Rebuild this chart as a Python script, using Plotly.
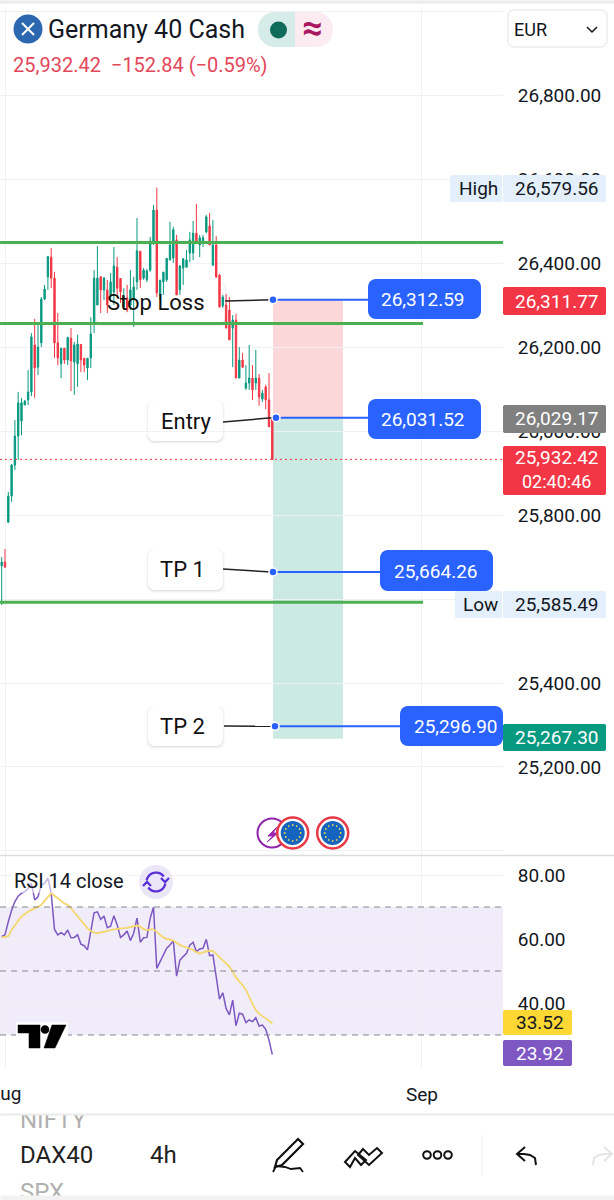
import math
import plotly.graph_objects as go

OPEN = [25679,25688,25783,25845,25919,25988,26024,26062,26074,26093,
26205,26152,26210,26314,26367,26414,26364,26210,26160,26197,
26169,26221,26164,26160,26206,26173,26150,26174,26255,26300,
26367,26336,26336,26324,26331,26390,26363,26295,26317,26300,
26312,26355,26428,26364,26360,26383,26448,26526,26324,26355,
26360,26407,26412,26455,26336,26388,26390,26424,26424,26471,
26443,26452,26474,26488,26395,26443,26371,26298,26300,26288,
26245,26264,26126,26169,26102,26114,26126,26114,26126,26076,
26105,26074,26030]
HIGH = [25700,25719,25855,25921,26026,26093,26079,26074,26145,26233,
26267,26257,26319,26348,26417,26436,26379,26281,26198,26198,
26224,26245,26212,26229,26207,26174,26174,26271,26383,26440,
26369,26367,26360,26376,26438,26414,26364,26340,26348,26383,
26367,26507,26429,26388,26386,26462,26538,26579.56,26360,26379,
26412,26498,26486,26467,26395,26412,26431,26474,26500,26541,
26467,26467,26514,26519,26502,26464,26374,26324,26326,26319,
26276,26279,26200,26186,26157,26205,26157,26193,26136,26098,
26110,26138,26033]
LOW = [25585.49,25674,25781,25831,25907,25931,25990,26062,26062,26083,
26079,26133,26200,26312,26336,26340,26174,26157,26126,26160,
26157,26095,26086,26105,26140,26140,26121,26150,26233,26300,
26281,26312,26281,26307,26300,26319,26305,26293,26283,26288,
26248,26336,26340,26360,26355,26379,26443,26319,26312,26324,
26355,26407,26400,26324,26324,26348,26390,26402,26407,26448,
26414,26438,26471,26443,26393,26364,26295,26293,26245,26217,
26152,26126,26126,26150,26098,26098,26074,26098,26060,26069,
26052,26010,25932.42]
CLOSE = [25688,25676,25845,25919,25988,26067,26067,26071,26093,26224,
26150,26200,26314,26338,26415,26364,26210,26174,26197,26169,
26223,26167,26205,26207,26169,26157,26173,26231,26364,26364,
26336,26364,26300,26355,26393,26340,26331,26321,26288,26336,
26343,26429,26360,26383,26381,26452,26526,26329,26359,26378,
26411,26443,26479,26324,26393,26410,26407,26455,26471,26448,
26460,26460,26510,26443,26443,26367,26295,26319,26245,26217,
26264,26126,26169,26152,26114,26126,26098,26126,26081,26090,
26074,26010,25932.42]
RSI = [60.7,61.3,65.4,69,71.7,73.4,74.3,74.8,75.8,77.4,
72.2,73.2,76.9,77.4,79,74.3,63,61.3,62,61.3,
62.8,60.4,60.5,61.3,58.4,57.9,56.6,62.8,68.2,68.5,
66.1,67.2,63.5,64,67.3,64.4,60.5,61.3,62.5,59.5,
61.8,66.5,59,60.4,60.5,66.5,69.9,50.8,52.9,54.7,
57.1,58.1,59.5,48.4,53.4,54.5,55.5,58.1,59,56,
56.9,57.1,59.9,54.8,55,48.2,41.2,43.2,38.3,36.3,
40.9,32.9,36.8,36.5,33.9,34.7,34.2,35.4,32.8,33.1,
31.8,28.4,23.92]
RSI_MA = [60.5,60.6,60.9,62.8,64.4,65.7,67,67.8,68.5,69.1,
69.6,70,70.6,71.9,73.2,74.3,73.5,72.8,71.9,71.1,
70.7,69.6,68.3,67.2,65.9,64.5,63.3,62.5,62,61.8,
62.1,62.3,62.5,62.8,63,63.2,63.3,63.4,63.5,63.8,
63.9,64.2,63.8,63.1,62.7,63,63,62.3,61.3,60.5,
60,59.9,59.5,58.8,58.1,57.7,57.3,56.9,56.6,55.9,
55.4,55.8,56.1,56.4,56.3,55.3,54.3,53.5,52.5,51.4,
49.8,48,46.7,45.6,44.1,41.7,39.7,37.8,36.6,35.9,
35.3,34.5,33.52]
LEVEL_NAMES = ["Stop Loss", "Entry", "TP 1", "TP 2"]
LEVELS = [26312.59, 26031.52, 25664.26, 25296.90]
LEVEL_TEXT = ["26,312.59", "26,031.52", "25,664.26", "25,296.90"]
GREEN_LEVELS = [26449, 26256, 25592]
LAST_PRICE = 25932.42
TARGET_LOW = 25267.30
PRICE_TICKS = [25000,25200,25400,25600,25800,26000,26200,26400,26600,26800,27000]
PRICE_LABELS = ["","25,200.00","25,400.00","25,600.00","25,800.00","26,000.00","26,200.00","26,400.00","26,600.00","26,800.00",""]
RSI_TICKS = [20,40,60,80]
RSI_LABELS = ["","40.00","60.00","80.00"]
TIME_TICKS = [1, 127.36]
TIME_LABELS = ["", "Sep"]

PW, PH = 614, 1200
FONT = "Roboto"
X_L, X_STEP = 1.7, 3.3
def ix(px): return (px - X_L) / X_STEP
def pr(py): return 25800 + (515 - py) * 2.381
def fx(px): return px / PW
def fy(py): return 1 - py / PH

shapes, annos = [], []

def path(points, conv_x, conv_y, close=False):
    s = ""
    for k, (a, b) in enumerate(points):
        s += ("M" if k == 0 else "L") + f"{conv_x(a):.5f},{conv_y(b):.5f} "
    return s + ("Z" if close else "")

def rr_points(x0, y0, x1, y1, r):
    pts = []
    for cx, cy, a0 in [(x1 - r, y0 + r, -90), (x1 - r, y1 - r, 0), (x0 + r, y1 - r, 90), (x0 + r, y0 + r, 180)]:
        for t in range(0, 91, 15):
            a = math.radians(a0 + t)
            pts.append((cx + r * math.cos(a), cy + r * math.sin(a)))
    return pts

def panel(x0, y0, x1, y1, r, fill, line=None, lw=0):
    shapes.append(dict(type="path", path=path(rr_points(x0, y0, x1, y1, r), fx, fy, True), xref="paper", yref="paper",
                       fillcolor=fill, line=dict(color=line or "rgba(0,0,0,0)", width=lw), layer="above"))

def stroke(points, color="#222222", width=2, close=False, fill="rgba(0,0,0,0)"):
    shapes.append(dict(type="path", path=path(points, fx, fy, close), xref="paper", yref="paper",
                       fillcolor=fill, line=dict(color=color, width=width), layer="above"))

def disc(cx, cy, r, fill, line=None, lw=0):
    shapes.append(dict(type="circle", xref="paper", yref="paper", x0=fx(cx - r), x1=fx(cx + r), y0=fy(cy + r), y1=fy(cy - r),
                       fillcolor=fill, line=dict(color=line or "rgba(0,0,0,0)", width=lw), layer="above"))

def text(x, y, s, size=19, color="#131722", anchor="left"):
    annos.append(dict(x=fx(x), y=fy(y), xref="paper", yref="paper", text=s, showarrow=False, xanchor=anchor, yanchor="middle",
                      font=dict(family=FONT, size=size, color=color), borderpad=0, borderwidth=0))

def cover(y0, y1, color):
    annos.append(dict(x=0, y=fy(y0), xref="paper", yref="paper", text=" ", showarrow=False, xanchor="left", yanchor="top",
                      width=PW, height=y1 - y0, bgcolor=color, borderpad=0, font=dict(size=1)))

def callout(x0, y0, x1, y1):
    for off, col in [(3, "rgba(0,0,0,0.025)"), (2, "rgba(0,0,0,0.035)"), (1, "rgba(0,0,0,0.05)")]:
        shapes.append(dict(type="path", path=path(rr_points(x0 - off + 1, y0, x1 + off - 1, y1 + off, 7), ix, pr, True), xref="x", yref="y",
                           fillcolor=col, line=dict(width=0), layer="below"))
    shapes.append(dict(type="path", path=path(rr_points(x0, y0, x1, y1, 7), ix, pr, True), xref="x", yref="y",
                       fillcolor="white", line=dict(width=0), layer="below"))

# position tool
shapes.append(dict(type="rect", xref="x", yref="y", x0=ix(273), x1=ix(343), y0=LEVELS[1], y1=LEVELS[0], fillcolor="#fcd7d9", line=dict(width=0), layer="below"))
shapes.append(dict(type="rect", xref="x", yref="y", x0=ix(273), x1=ix(343), y0=TARGET_LOW, y1=LEVELS[1], fillcolor="#cde9e3", line=dict(width=0), layer="below"))
# RSI band and levels
shapes.append(dict(type="rect", xref="x domain", yref="y2", x0=0, x1=1, y0=30, y1=70, fillcolor="#f0ecf9", line=dict(width=0), layer="below"))
for v in [70, 50, 30]:
    shapes.append(dict(type="line", xref="x domain", yref="y2", x0=0, x1=1, y0=v, y1=v, line=dict(color="#84868f", width=1, dash="6px,5px"), layer="above"))

callout(96, 282, 225, 324)
callout(148, 401, 223, 441)
callout(148, 549, 223, 590)
callout(148, 706, 223, 746)

fig = go.Figure()
X = list(range(len(OPEN)))
fig.add_trace(go.Candlestick(x=X, open=OPEN, high=HIGH, low=LOW, close=CLOSE, xaxis="x", yaxis="y", whiskerwidth=0,
    increasing=dict(line=dict(color="#089981", width=1), fillcolor="#089981"),
    decreasing=dict(line=dict(color="#f23645", width=1), fillcolor="#f23645"), showlegend=False))
# green support / resistance
for lev, end in zip(GREEN_LEVELS, [503, 423, 423]):
    fig.add_trace(go.Scatter(x=[ix(0), ix(end)], y=[lev, lev], mode="lines", line=dict(color="#4caf50", width=3), showlegend=False))
# last price
fig.add_trace(go.Scatter(x=[ix(0), ix(503)], y=[LAST_PRICE, LAST_PRICE], mode="lines", line=dict(color="#f23645", width=1, dash="2px,3px"), showlegend=False))
# leaders + level lines
dots = [273, 276, 273, 275]
ends = [368, 368, 380, 400]
lead = [(225, 301, 272), (223, 422, 272), (223, 569, 272), (224, 726, 273)]
for lev, d, e, (a, ay, b) in zip(LEVELS, dots, ends, lead):
    fig.add_trace(go.Scatter(x=[ix(a), ix(b)], y=[pr(ay), lev], mode="lines", line=dict(color="#222222", width=1.5), showlegend=False))
    fig.add_trace(go.Scatter(x=[ix(d), ix(e)], y=[lev, lev], mode="lines", line=dict(color="#2962ff", width=2), showlegend=False))
fig.add_trace(go.Scatter(x=[ix(d) for d in dots], y=LEVELS, mode="markers",
    marker=dict(color="#2962ff", size=8, line=dict(color="white", width=1.5)), showlegend=False))
# RSI
fig.add_trace(go.Scatter(x=X, y=RSI, yaxis="y2", mode="lines", line=dict(color="#7e57c2", width=1.5), showlegend=False))
fig.add_trace(go.Scatter(x=X, y=RSI_MA, yaxis="y2", mode="lines", line=dict(color="#f5d76e", width=1.8), showlegend=False))

# callout labels
text(156, 303, LEVEL_NAMES[0], 22, "#111111", "center")
text(186, 421, LEVEL_NAMES[1], 22, "#111111", "center")
text(182, 569, LEVEL_NAMES[2], 22, "#111111", "center")
text(182, 726, LEVEL_NAMES[3], 22, "#111111", "center")
# blue labels
for (x0, y0, x1, y1), t, cx in zip([(368, 279, 481, 319), (368, 399, 481, 439), (380, 550, 493, 591), (400, 706, 503, 746)], LEVEL_TEXT, [423, 423, 435.5, 456]):
    panel(x0, y0, x1, y1, 8, "#2962ff")
    text(cx, (y0 + y1) / 2 + 0.5, t, 19, "white", "center")

# right badges
def badge(x0, y0, x1, y1, fill, label, col, size=19):
    panel(x0, y0, x1, y1, 2, fill)
    text((x0 + x1) / 2 + 2, (y0 + y1) / 2, label, size, col, "center")
badge(450, 175, 502, 202, "#e3effa", "High", "#131722")
badge(503, 175, 606, 202, "#e3effa", "26,579.56", "#131722")
badge(503, 287, 606, 315, "#f23645", "26,311.77", "white")
badge(503, 405, 606, 433, "#808080", "26,029.17", "white")
panel(503, 446, 606, 495, 2, "#f23645")
text(556.5, 458, "25,932.42", 19, "white", "center")
text(556.5, 481, "02:40:46", 18, "white", "center")
badge(455, 591, 502, 618, "#e3effa", "Low", "#131722")
badge(503, 591, 606, 618, "#e3effa", "25,585.49", "#131722")
badge(503, 724, 606, 751, "#089981", "25,267.30", "white")
badge(503, 1010, 572, 1035, "#fdd835", "33.52", "#131722", 19)
badge(503, 1040, 572, 1066, "#7e57c2", "23.92", "white", 19)

# divider lines
shapes.append(dict(type="line", xref="paper", yref="paper", x0=0, x1=1, y0=fy(855.5), y1=fy(855.5), line=dict(color="#dcdcdc", width=1.5), layer="above"))
shapes.append(dict(type="line", xref="paper", yref="paper", x0=0, x1=1, y0=fy(2), y1=fy(2), line=dict(color="#ececec", width=3), layer="above"))

# header
disc(28, 29, 14.5, "#2c68b0")
stroke([(22, 23), (34, 35)], "white", 2)
stroke([(34, 23), (22, 35)], "white", 2)
text(48, 29, "Germany 40 Cash", 25, "#131722")
panel(258, 12, 333, 47, 17, "#fcecf2")
shapes.append(dict(type="path", path=path(rr_points(258, 12, 320, 47, 17)[14:28] + [(295, 12), (295, 47)], fx, fy, True), xref="paper", yref="paper",
                   fillcolor="#d6ece8", line=dict(width=0), layer="above"))
disc(278.5, 30, 8.5, "#0f6b5a")
text(312, 28, "<b>≈</b>", 36, "#a8175f", "center")
text(13, 65, "25,932.42\u00a0\u00a0−152.84 (−0.59%)", 20, "#e2475a")
panel(508, 10, 607, 47, 6, "white", "#e3e3e3", 1)
text(514, 29, "EUR", 18, "#131722")
stroke([(587, 27), (592, 32), (597, 27)], "#131722", 1.5)

# event icons
disc(272, 833, 14.5, "white", "#8e24aa", 2)
stroke([(277, 827), (268, 836), (273, 836), (267, 842), (278, 833), (273, 833)], "#9c27b0", 1, True, "#9c27b0")
for cx in (292.7, 332.7):
    disc(cx, 833, 15.5, "white", "#e53945", 2.5)
    disc(cx, 833, 12, "#1565c0")
    for k in range(12):
        a = math.radians(30 * k)
        disc(cx + 8 * math.cos(a), 833 + 8 * math.sin(a), 0.9, "#e8d44d")

# RSI legend
panel(12, 870, 130, 893, 0, "rgba(255,255,255,0.55)")
text(14, 881, "RSI 14 close", 20, "#131722")
disc(156, 882, 17, "#ebe6f7")
def arc(cx, cy, r, a0, a1):
    return [(cx + r * math.cos(math.radians(a)), cy + r * math.sin(math.radians(a))) for a in range(a0, a1 + 1, 15)]
stroke(arc(156, 882, 9.5, 190, 330), "#5b2fd6", 2.3)
stroke(arc(156, 882, 9.5, 10, 150), "#5b2fd6", 2.3)
stroke([(161, 878), (165, 882), (169, 878)], "#5b2fd6", 2.3)
stroke([(143, 886), (147, 882), (151, 886)], "#5b2fd6", 2.3)

# TV logo
panel(16, 1022, 68, 1050, 0, "white")
stroke([(18, 1025), (40, 1025), (40, 1048), (29, 1048), (29, 1033), (18, 1033)], "#000000", 0.5, True, "#000000")
disc(45, 1029.5, 4.3, "#000000")
stroke([(52, 1025), (66, 1025), (55, 1048), (44, 1048)], "#000000", 0.5, True, "#000000")

# time axis label running off the left edge, as in the reference
text(21, 1093, "Aug", 19, "#131722", "right")

# bottom toolbar
text(20, 1120, "NIFTY", 24, "#b0b0b0")
text(20, 1192, "SPX", 24, "#b0b0b0")
cover(1104, 1113, "white")
cover(1113, 1114, "#ebebeb")
cover(1195, 1200, "#f2f2f2")
text(20, 1155, "DAX40", 24, "#222222")
text(150, 1155, "4h", 24, "#222222")
stroke([(277, 1160), (298, 1139), (303, 1144), (282, 1165), (275, 1167)], "#111111", 2.2, True)
stroke([(273, 1172), (276, 1166), (285, 1167), (291, 1169), (300, 1168), (303, 1172)], "#111111", 1.8)
stroke([(345, 1162), (355, 1151), (366, 1160), (361, 1165), (355, 1158), (350, 1167)], "#111111", 2, True)
stroke([(358, 1155), (363, 1149), (369, 1155), (377, 1148), (382, 1153), (369, 1165)], "#111111", 2, True)
for cx in (427, 437.5, 448):
    disc(cx, 1155, 3.8, "white", "#111111", 2)
shapes.append(dict(type="line", xref="paper", yref="paper", x0=fx(482), x1=fx(482), y0=fy(1135), y1=fy(1176), line=dict(color="#f0f0f0", width=1), layer="above"))
stroke([(536, 1165), (535, 1158), (530, 1155), (524, 1154), (517, 1154)], "#111111", 2)
stroke([(525, 1147), (517, 1154), (525, 1161)], "#111111", 2)
stroke([(593, 1165), (594, 1158), (599, 1155), (605, 1154), (612, 1154)], "#e4e4e4", 2)
stroke([(604, 1147), (612, 1154), (604, 1161)], "#e4e4e4", 2)

GRID = "#f1f1f4"
TICK = dict(zeroline=False, ticks="outside", tickcolor="rgba(0,0,0,0)", tickfont=dict(size=19, family=FONT), showgrid=True, gridcolor=GRID, gridwidth=1, tickmode="array")
fig.update_layout(
    width=PW, height=PH, margin=dict(l=0, r=0, t=0, b=0), paper_bgcolor="white", plot_bgcolor="white",
    showlegend=False, hovermode=False, boxgap=0.4, shapes=shapes, annotations=annos,
    font=dict(family=FONT, size=19, color="#131722"),
    xaxis=dict(domain=[0, 503 / PW], range=[ix(0), ix(503)], anchor="y2", rangeslider=dict(visible=False),
               tickvals=TIME_TICKS, ticktext=TIME_LABELS, ticklen=10, **TICK),
    yaxis=dict(domain=[fy(855), fy(7)], range=[pr(855), pr(7)], anchor="x", side="right",
               tickvals=PRICE_TICKS, ticktext=PRICE_LABELS, ticklen=10, **TICK),
    yaxis2=dict(domain=[fy(1067), fy(856)], range=[20, 20 + 211 / 3.2], anchor="x", side="right",
                tickvals=RSI_TICKS, ticktext=RSI_LABELS, ticklen=10, **TICK),
)
fig.write_html("out.html", config=dict(displayModeBar=False),
               post_script="document.body.style.margin='0';document.body.style.overflow='hidden';")
